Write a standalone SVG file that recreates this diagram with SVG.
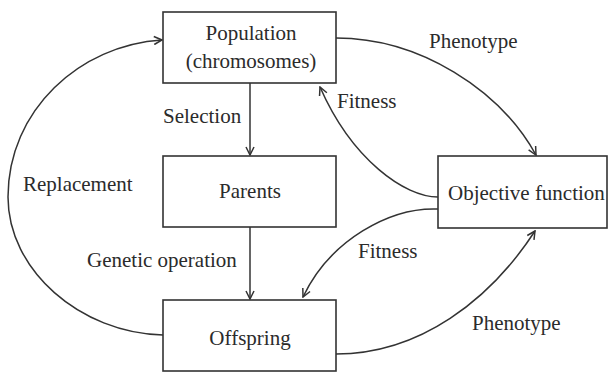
<svg xmlns="http://www.w3.org/2000/svg" width="608" height="373" viewBox="0 0 608 373">
<defs>
<style>
.box{fill:#fff;stroke:#333;stroke-width:1.6}
.t{font-family:"Liberation Serif","Times New Roman",serif;font-size:21px;fill:#2b2b2b}
.c{text-anchor:middle}
.ln{fill:none;stroke:#333;stroke-width:1.5}
</style>
<marker id="ah" viewBox="0 0 10 10" refX="9" refY="5" markerWidth="10" markerHeight="10" markerUnits="userSpaceOnUse" orient="auto">
<path d="M1,1 L9,5 L1,9" fill="none" stroke="#333" stroke-width="1.5"/>
</marker>
</defs>
<rect width="608" height="373" fill="#fff"/>
<g id="connectors">
<path class="ln" d="M250,83 L250,155" marker-end="url(#ah)"/>
<path class="ln" d="M250,227 L250,299" marker-end="url(#ah)"/>
<path class="ln" d="M163,335 C80,333 8,270 8,197 C8,110 80,45 162,40" marker-end="url(#ah)"/>
<path class="ln" d="M336,38 C420,38 500,90 536,155" marker-end="url(#ah)"/>
<path class="ln" d="M438,197 C405,197 352,160 320,87" marker-end="url(#ah)"/>
<path class="ln" d="M438,209 C390,207 330,240 303,297" marker-end="url(#ah)"/>
<path class="ln" d="M336,354 C420,354 490,300 535,231" marker-end="url(#ah)"/>
<text class="t" x="163" y="123">Selection</text>
<text class="t" x="23" y="191">Replacement</text>
<text class="t" x="87" y="267">Genetic operation</text>
<text class="t" x="429" y="48">Phenotype</text>
<text class="t" x="337" y="108">Fitness</text>
<text class="t" x="358" y="258">Fitness</text>
<text class="t" x="472" y="330">Phenotype</text>
</g>
<g id="population">
<rect class="box" x="163" y="12" width="173" height="71"/>
<text class="t c" x="251" y="40">Population</text>
<text class="t c" x="251" y="68">(chromosomes)</text>
</g>
<g id="parents">
<rect class="box" x="163" y="156" width="173" height="71"/>
<text class="t c" x="250" y="198">Parents</text>
</g>
<g id="offspring">
<rect class="box" x="163" y="300" width="173" height="71"/>
<text class="t c" x="250" y="345">Offspring</text>
</g>
<g id="objective">
<rect class="box" x="438" y="156" width="169" height="72"/>
<text class="t" x="448" y="200">Objective function</text>
</g>
</svg>
